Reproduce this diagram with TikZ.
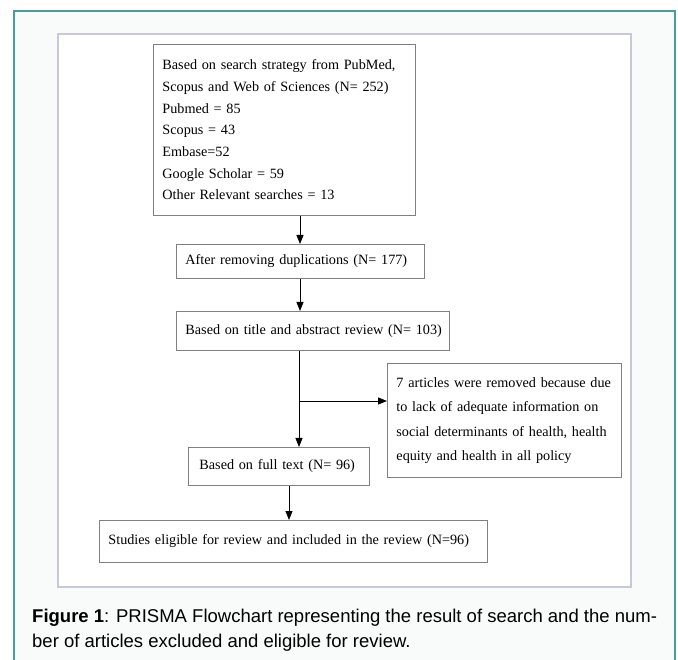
\documentclass[tikz,border=0pt]{standalone}
\usepackage{fontspec}
\setmainfont{Liberation Serif}
\newfontfamily\capfont{Liberation Sans}
\usetikzlibrary{arrows.meta,calc}
\definecolor{teal1}{RGB}{70,158,155}
\definecolor{framegray}{RGB}{200,200,218}
\definecolor{panel}{RGB}{249,250,250}
\definecolor{boxgray}{RGB}{128,128,128}
\tikzset{
  flowbox/.style={draw=boxgray, line width=0.9pt, fill=white, anchor=north west,
    inner sep=0pt, font=\fontsize{14.2}{21.7}\selectfont, align=left},
  arr/.style={line width=0.9pt, -{Triangle[length=9pt,width=7pt]}},
  capstyle/.style={anchor=west, inner sep=0pt, font=\capfont\fontsize{18.5}{25}\selectfont}
}
\begin{document}
\begin{tikzpicture}[x=1pt,y=-1pt]
\useasboundingbox (0,0) rectangle (678,660);
% outer panel
\fill[white] (0,0) rectangle (678,660);
\fill[panel] (14,11) rectangle (675,660);
\draw[teal1, line width=1.5pt] (14,662) -- (14,11) -- (675,11) -- (675,662);
% inner frame
\draw[framegray, line width=1.2pt, fill=white] (58,34) rectangle (631,587);

% boxes
\node[flowbox, minimum width=262pt, minimum height=171pt, text width=244pt] (b1) at (153,44)
 {\mbox{Based on search strategy from PubMed,}\\
  \mbox{Scopus and Web of Sciences (N= 252)}\\
  Pubmed = 85\\
  Scopus = 43\\
  Embase=52\\
  Google Scholar = 59\\
  Other Relevant searches = 13};
\node[flowbox, minimum width=248pt, minimum height=34pt, text width=230pt] (b2) at (176,244)
 {\mbox{After removing duplications (N= 177)}};
\node[flowbox, minimum width=273pt, minimum height=39pt, text width=255pt] (b3) at (176,311)
 {\mbox{Based on title and abstract review (N= 103)}};
\node[flowbox, minimum width=181pt, minimum height=38pt, text width=159pt] (b4) at (188,447)
 {\mbox{Based on full text (N= 96)}};
\node[flowbox, minimum width=234pt, minimum height=114pt, text width=216pt,
  font=\fontsize{14.2}{24.5}\selectfont] (b5) at (387,363)
 {\mbox{7 articles were removed because due}\\
  \mbox{to lack of adequate information on}\\
  \mbox{social determinants of health, health}\\
  \mbox{equity and health in all policy}};
\node[flowbox, minimum width=388pt, minimum height=42pt, text width=370pt] (b6) at (99,520)
 {\mbox{Studies eligible for review and included in the review (N=96)}};

% connector guide coordinates
\coordinate (xa) at (300,0);
\coordinate (xb) at (299,0);
\coordinate (xc) at (289,0);
\coordinate (br) at (299,401);

\draw[arr] (b1.south -| xa) -- (b2.north -| xa);
\draw[arr] (b2.south -| xa) -- (b3.north -| xa);
\draw[arr] (b3.south -| xb) -- (b4.north -| xb);
\draw[arr] (br) -- (b5.west |- br);
\draw[arr] (b4.south -| xc) -- (b6.north -| xc);

% caption
\node[capstyle] (cap1) at (32,618)
 {\textbf{Figure 1}: PRISMA Flowchart representing the result of search and the num-};
\node[capstyle] (cap2) at (32,643)
 {ber of articles excluded and eligible for review.};
\end{tikzpicture}
\end{document}
